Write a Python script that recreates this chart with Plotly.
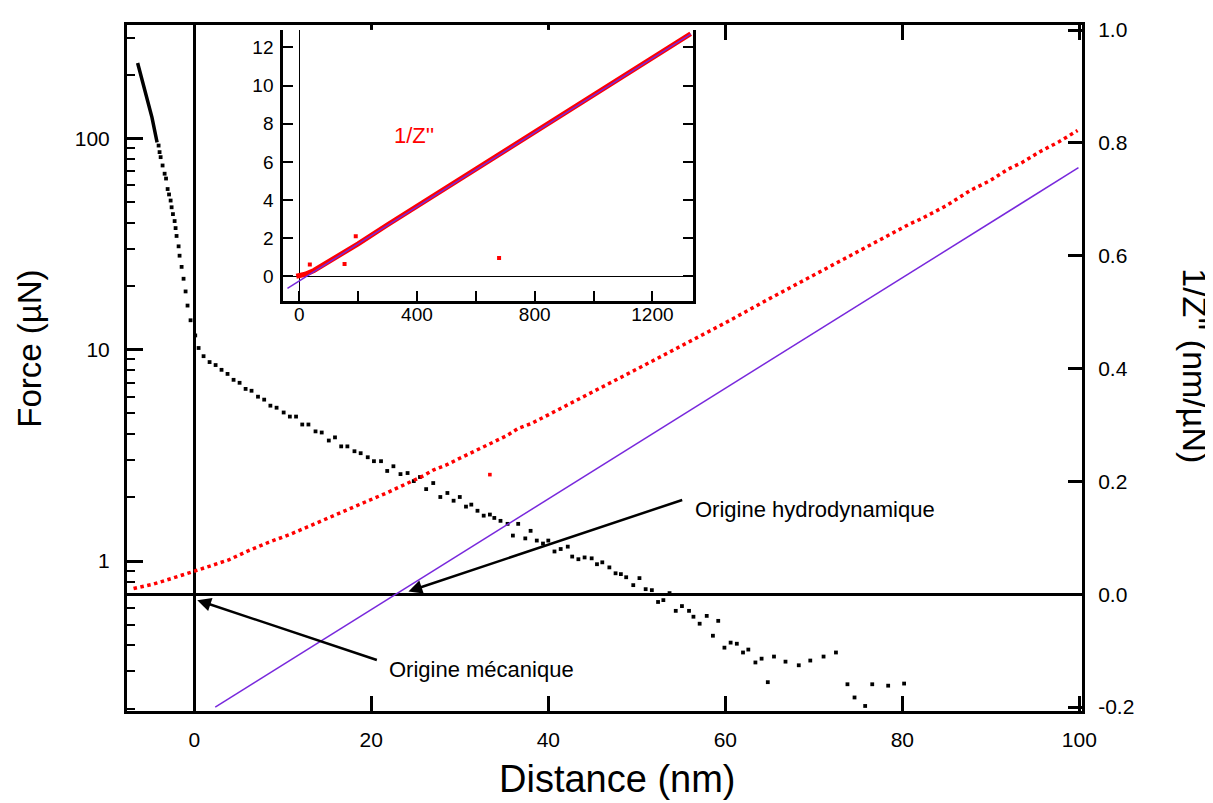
import plotly.graph_objects as go
import math

# ---- main plot: force (log, left axis) ----
force_dense_x = [-6.4, -5.53, -4.78, -4.2]
force_dense_y = [228, 165, 126, 96]

force_x = [-4.03, -3.92, -3.80, -3.58, -3.35, -3.19, -3.01, -2.85, -2.67, -2.56, -2.41, -2.22, -2.11, -2.0,
           -1.77, -1.66, -1.43, -1.21, -0.98, -0.76, -0.42, 0.11, 0.49, 1.05, 1.73, 2.41, 3.08, 3.76, 4.44,
           5.12, 5.80, 6.47, 7.2, 7.9, 8.6, 9.3, 10.1, 10.8, 11.5, 12.2, 12.9, 13.7, 14.4, 15.2, 15.9, 16.6,
           17.3, 18.1, 18.8, 19.6, 20.3, 21.1, 21.8, 22.5, 23.3, 24.1, 24.8, 25.5, 26.2, 27.0, 27.8, 28.6,
           29.3, 30.0, 30.7, 31.3, 32.0, 32.7, 33.4, 33.9, 34.6, 35.4, 36.0, 36.6, 37.4, 38.0, 38.7, 39.4,
           40.0, 40.7, 41.4, 42.2, 42.7, 43.4, 44.1, 44.9, 45.5, 46.1, 46.9, 47.6, 48.2, 48.8, 49.6, 50.3,
           51.0, 51.7, 52.4, 53.0, 53.7, 54.4, 55.1, 55.9, 56.4, 57.1, 57.9, 58.6, 59.2, 59.9, 60.6, 61.3,
           62.0, 62.6, 63.4, 64.1, 64.8, 65.5, 66.8, 68.3, 69.6, 71.1, 72.5, 73.8, 74.6, 75.8, 76.6, 78.4, 80.2]
force_y = [92.7, 86.3, 81.7, 74.6, 68.2, 64.7, 57.7, 54.4, 50.9, 47.3, 43.9, 40.7, 37.7, 34.6,
           30.9, 27.9, 24.7, 21.7, 18.9, 16.2, 13.8, 11.7, 10.2, 9.33, 8.75, 8.47, 8.04, 7.69, 7.21,
           6.98, 6.53, 6.40, 6.00, 5.81, 5.44, 5.32, 5.05, 4.83, 4.83, 4.43, 4.43, 4.11, 4.06, 3.72, 3.85, 3.49,
           3.49, 3.31, 3.24, 3.10, 2.97, 2.97, 2.67, 2.81, 2.58, 2.61, 2.39, 2.50, 2.19, 2.34, 2.01, 2.10,
           1.93, 2.01, 1.81, 1.85, 1.73, 1.64, 1.66, 1.60, 1.55, 1.50, 1.32, 1.50, 1.28, 1.39, 1.25, 1.21,
           1.25, 1.11, 1.14, 1.17, 1.05, 1.02, 1.04, 1.03, 0.966, 0.986, 0.933, 0.875, 0.867, 0.838, 0.769, 0.830,
           0.736, 0.728, 0.640, 0.653, 0.705, 0.581, 0.612, 0.581, 0.545, 0.505, 0.550, 0.443, 0.521, 0.389, 0.411, 0.406,
           0.369, 0.381, 0.331, 0.345, 0.267, 0.353, 0.334, 0.321, 0.338, 0.353, 0.369, 0.261, 0.226, 0.206, 0.261, 0.257, 0.263]

# ---- main plot: 1/Z'' (right axis) ----
invz_x = [-6.86, -4.6, -2.34, -0.08, 1.6, 3.9, 6.1, 8.4, 10.8, 12.9, 15.2, 17.4, 19.7, 21.8, 24.0, 25.9, 27.0,
          28.6, 30.0, 31.3, 32.6, 33.9, 35.3, 36.6, 38.0, 40, 45, 50, 55, 60, 65, 70, 75, 80.8, 82.2, 85.0,
          87.7, 89.9, 92.0, 93.5, 95.5, 97.7, 99.8]
invz_y = [0.010, 0.018, 0.029, 0.040, 0.049, 0.061, 0.077, 0.092, 0.106, 0.120, 0.135, 0.150, 0.166, 0.180,
          0.196, 0.210, 0.220, 0.230, 0.241, 0.251, 0.261, 0.271, 0.281, 0.294, 0.302, 0.318, 0.358, 0.399,
          0.440, 0.481, 0.524, 0.566, 0.609, 0.656, 0.666, 0.689, 0.716, 0.733, 0.754, 0.765, 0.784, 0.802, 0.822]
invz_out_x = [33.4]
invz_out_y = [0.212]

fit_x = [2.37, 99.9]
fit_y = [-0.2, 0.756]

# ---- inset ----
ins_x = [-10, 0, 20, 50, 100, 200, 300, 400, 500, 600, 700, 800, 900, 1000, 1100, 1200, 1330]
ins_y = [0.0, 0.02, 0.1, 0.3, 0.75, 1.7, 2.7, 3.68, 4.66, 5.63, 6.6, 7.57, 8.54, 9.52, 10.5, 11.48, 12.72]
ins_out_x = [36, 154, 192, 679]
ins_out_y = [0.61, 0.64, 2.1, 0.95]
ins_fit_x = [-40, 1330]
ins_fit_y = [-0.64, 12.7]

x_ticks = [0, 20, 40, 60, 80, 100]
y2_ticks = [-0.2, 0.0, 0.2, 0.4, 0.6, 0.8, 1.0]
y2_text = ["-0.2", "0.0", "0.2", "0.4", "0.6", "0.8", "1.0"]
ins_xticks = [0, 200, 400, 600, 800, 1000, 1200]
ins_xtext = ["0", "", "400", "", "800", "", "1200"]
ins_yticks = [0, 2, 4, 6, 8, 10, 12]

FONT = "Liberation Sans, Arial, sans-serif"
PURPLE = "rgb(120,40,220)"

fig = go.Figure()
fig.add_trace(go.Scatter(x=force_dense_x, y=force_dense_y, mode="lines",
                         line=dict(color="black", width=3.5), xaxis="x", yaxis="y", showlegend=False))
fig.add_trace(go.Scatter(x=force_x, y=force_y, mode="markers",
                         marker=dict(color="black", size=3.8, symbol="square", line=dict(width=0)),
                         xaxis="x", yaxis="y", showlegend=False))
fig.add_trace(go.Scatter(x=invz_x, y=invz_y, mode="lines",
                         line=dict(color="red", width=3.5, dash="dot"), xaxis="x", yaxis="y2", showlegend=False))
fig.add_trace(go.Scatter(x=invz_out_x, y=invz_out_y, mode="markers",
                         marker=dict(color="red", size=3.6, symbol="square", line=dict(width=0)),
                         xaxis="x", yaxis="y2", showlegend=False))
fig.add_trace(go.Scatter(x=fit_x, y=fit_y, mode="lines", line=dict(color=PURPLE, width=1.5),
                         xaxis="x", yaxis="y2", showlegend=False))

fig.add_trace(go.Scatter(x=ins_x, y=ins_y, mode="lines", line=dict(color="red", width=5),
                         xaxis="x2", yaxis="y3", showlegend=False))
fig.add_trace(go.Scatter(x=ins_out_x, y=ins_out_y, mode="markers",
                         marker=dict(color="red", size=4, symbol="square", line=dict(width=0)),
                         xaxis="x2", yaxis="y3", showlegend=False))
fig.add_trace(go.Scatter(x=ins_fit_x, y=ins_fit_y, mode="lines", line=dict(color=PURPLE, width=1.5),
                         xaxis="x2", yaxis="y3", showlegend=False))

minor_vals = [0.2, 0.3, 0.4, 0.5, 0.6, 0.7, 0.8, 0.9, 2, 3, 4, 5, 6, 7, 8, 9,
              20, 30, 40, 50, 60, 70, 80, 90, 200, 300]

tickfont = dict(family=FONT, size=21, color="black")
ins_tickfont = dict(family=FONT, size=19, color="black")

fig.update_layout(
    width=1205, height=795,
    margin=dict(l=119, r=131, t=10, b=92),
    paper_bgcolor="white", plot_bgcolor="white",
    font=dict(family=FONT, color="black"),
    xaxis=dict(domain=[0, 1], range=[-7.6, 100.3], tickvals=x_ticks, ticks="inside", ticklen=15,
               tickwidth=2.5, tickcolor="black", showline=True, linewidth=3, linecolor="black",
               mirror="ticks", showgrid=False, zeroline=True, zerolinewidth=3, zerolinecolor="black",
               tickfont=tickfont, ticklabelstandoff=8, anchor="y"),
    yaxis=dict(type="log", range=[math.log10(0.195), math.log10(345)], tickvals=[1, 10, 100],
               ticktext=["1", "10", "100"], ticks="inside", ticklen=16, tickwidth=2.5, tickcolor="black",
               showline=True, linewidth=3, linecolor="black", showgrid=False, zeroline=False,
               minor=dict(tickvals=minor_vals, ticks="inside", ticklen=8, tickwidth=2, tickcolor="black",
                          showgrid=False),
               tickfont=tickfont, ticklabelstandoff=10, anchor="x"),
    yaxis2=dict(overlaying="y", side="right", range=[-0.207, 1.009], tickvals=y2_ticks, ticktext=y2_text,
                ticks="inside", ticklen=14, tickwidth=2.5, tickcolor="black", showline=True, linewidth=3,
                linecolor="black", showgrid=False, zeroline=True, zerolinewidth=3, zerolinecolor="black",
                tickfont=tickfont, ticklabelstandoff=9, anchor="x"),
    xaxis2=dict(domain=[0.1634, 0.5927], range=[-55, 1338], tickvals=ins_xticks, ticktext=ins_xtext,
                ticks="inside", ticklen=10, tickwidth=2, tickcolor="black", showline=True, linewidth=2.5,
                linecolor="black", showgrid=False, zeroline=True, zerolinewidth=1, zerolinecolor="black",
                tickfont=ins_tickfont, ticklabelstandoff=-6, anchor="y3"),
    yaxis3=dict(domain=[0.5974, 0.9928], range=[-1.31, 12.92], tickvals=ins_yticks, ticks="inside",
                ticklen=10, tickwidth=2, tickcolor="black", showline=True, linewidth=2.5, linecolor="black",
                mirror="ticks", showgrid=False, zeroline=True, zerolinewidth=1, zerolinecolor="black",
                tickfont=ins_tickfont, ticklabelstandoff=3, anchor="x2"),
)

annotations = [
    dict(text="Force (µN)", xref="paper", yref="paper", x=-0.1016, y=0.528, textangle=-90,
         xanchor="center", yanchor="middle",
         showarrow=False, font=dict(family=FONT, size=33, color="black")),
    dict(text="Distance (nm)", xref="paper", yref="paper", x=0.514, y=-0.0996,
         xanchor="center", yanchor="middle",
         showarrow=False, font=dict(family=FONT, size=38, color="black")),
    dict(text="1/Z'' (nm/µN)", xref="paper", yref="paper", x=1.118, y=0.503, textangle=90,
         xanchor="center", yanchor="middle",
         showarrow=False, font=dict(family=FONT, size=34, color="black")),
    dict(text="1/Z''", xref="x2", yref="y3", x=391, y=7.36, showarrow=False,
         xanchor="center", yanchor="middle",
         font=dict(family=FONT, size=22, color="red")),
    # arrows
    dict(x=24.2, y=0.005, xref="x", yref="y2", ax=55.3, ay=0.168, axref="x", ayref="y2",
         text="", showarrow=True, arrowhead=2, arrowsize=1.1, arrowwidth=2.5, arrowcolor="black"),
    dict(x=0.34, y=-0.0105, xref="x", yref="y2", ax=20.8, ay=-0.1175, axref="x", ayref="y2",
         text="", showarrow=True, arrowhead=2, arrowsize=1.1, arrowwidth=2.5, arrowcolor="black"),
    dict(text="Origine hydrodynamique", xref="x", yref="y2", x=56.3, y=0.151, xanchor="left",
         yanchor="middle", showarrow=False, font=dict(family=FONT, size=22, color="black")),
    dict(text="Origine mécanique", xref="x", yref="y2", x=21.8, y=-0.133, xanchor="left",
         yanchor="middle", showarrow=False, font=dict(family=FONT, size=22, color="black")),
]
fig.update_layout(annotations=annotations)

fig.write_html("out.html")
